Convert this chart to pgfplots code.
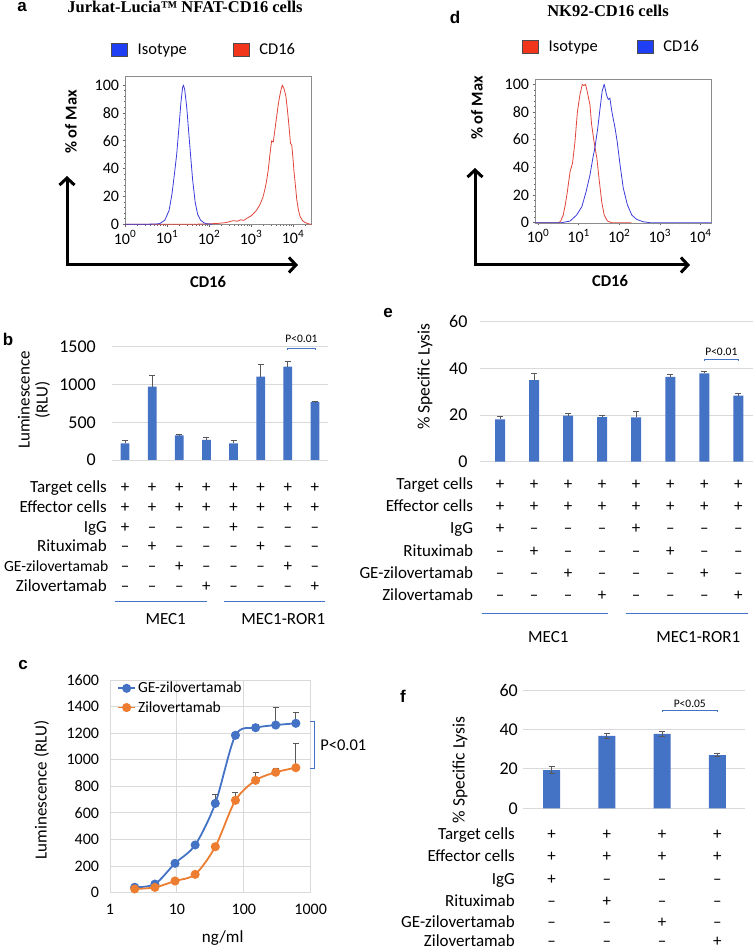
\documentclass[border=0pt]{standalone}
\usepackage{fontspec}
\setmainfont{Carlito}
\newfontfamily\timesfont{Liberation Serif}
\newfontfamily\arialfont{Liberation Sans}
\usepackage{pgfplots}
\usepackage{pgfplotstable}
\pgfplotsset{compat=1.18}
\usetikzlibrary{arrows.meta}

\definecolor{xlblue}{HTML}{4472C4}
\definecolor{xlorange}{HTML}{ED7D31}
\definecolor{histblue}{HTML}{3B3BDB}
\definecolor{histred}{HTML}{E0443A}
\definecolor{keyblue}{HTML}{1F3FF5}
\definecolor{keyred}{HTML}{F2361C}
\definecolor{errgray}{HTML}{595959}
\definecolor{gridgray}{HTML}{D9D9D9}

\newcommand\fs[1]{\fontsize{#1bp}{#1bp}\selectfont}

% luciferase reporter, 8 conditions: position, mean, error
\pgfplotstableread{
x y e
1 220 36
2 970 146
3 326 6
4 265 35
5 220 40
6 1103 163
7 1235 66
8 768 5
}\lumbars

% NK92 cytotoxicity, 8 conditions
\pgfplotstableread{
x y e
1 18.1 1.2
2 35.0 2.9
3 19.7 0.9
4 19.1 0.8
5 19.0 2.7
6 36.4 0.9
7 37.9 0.7
8 28.3 1.1
}\lysisbars

% cytotoxicity, 4 conditions
\pgfplotstableread{
x y e
1 19.4 1.7
2 36.7 1.2
3 37.7 1.2
4 27.0 0.8
}\lysisfour

% dose response (ng/ml, RLU, error)
\pgfplotstableread{
x y e
2.34 41 12
4.69 65 15
9.375 221 10
18.75 359 10
37.5 672 70
75 1184 12
150 1241 28
300 1261 134
600 1274 80
}\gezilo

\pgfplotstableread{
x y e
2.34 28 10
4.69 40 15
9.375 88 10
18.75 138 8
37.5 346 12
75 695 60
150 845 58
300 906 30
600 940 179
}\zilo

\pgfplotsset{
  histaxis/.style={scale only axis, enlargelimits=false,
    axis line style={black!45, line width=0.6bp},
    xtick={1,10,100,1000,10000},
    xticklabels={10\textsuperscript{0},10\textsuperscript{1},10\textsuperscript{2},10\textsuperscript{3},10\textsuperscript{4}},
    minor xtick={2,3,...,9,20,30,...,90,200,300,...,900,2000,3000,...,9000,20000},
    ytick={0,20,...,100}, minor y tick num=4,
    tick align=outside, tick pos=left,
    major tick length=2.5bp, minor tick length=1.5bp,
    tick style={black!60, line width=0.5bp},
    tick label style={font=\fs{16}},
    /pgf/number format/assume math mode=true,
    legend columns=2,
    legend style={draw=none, fill=none, inner sep=0pt, font=\fs{16.5}, anchor=west,
      nodes={inner sep=0pt}},
    legend cell align=left,
  },
  boxkey/.style={legend image code/.code={%
    \draw[black!70, line width=0.5bp, fill=#1] (0bp,-6.5bp) rectangle (16bp,6.5bp);}},
  barpanel/.style={scale only axis, enlargelimits=false, ybar,
    axis line style={draw=none}, xtick=\empty,
    ymajorgrids, grid style={gridgray, line width=0.9bp},
    major tick length=0bp, yticklabel style={font=\fs{18}},
    /pgf/number format/assume math mode=true, /pgf/number format/1000 sep={},
    clip=false},
  barfill/.style={fill=xlblue, draw=none},
  errstyle/.style={error bars/y explicit,
    error bars/error bar style={errgray, line width=0.9bp},
    error bars/error mark options={rotate=90, mark size=3bp, errgray, line width=0.9bp}},
}

\tikzset{
  sign/.style={anchor=base, inner sep=0pt, font=\fs{17}},
  rowlab/.style={anchor=base east, inner sep=0pt, font=\fs{17}},
  letter/.style={anchor=base, inner sep=0pt, font=\arialfont\bfseries\fs{17}},
}

% +/- rows under the bar charts
\newcommand\signsB[9]{\foreach \s [count=\k] in {#2,#3,#4,#5,#6,#7,#8,#9}{\node[sign] at ({125.0+(\k-1)*27.136},#1) {\s};}}
\newcommand\signsE[9]{\foreach \s [count=\k] in {#2,#3,#4,#5,#6,#7,#8,#9}{\node[sign] at ({500.0+(\k-1)*34.048},#1) {\s};}}
\newcommand\signsF[5]{\foreach \s [count=\k] in {#2,#3,#4,#5}{\node[sign] at ({551.7+(\k-1)*55.232},#1) {\s};}}

\begin{document}
\begin{tikzpicture}[x=1bp,y=1bp]
\useasboundingbox (0,0) rectangle (755,949);

% ================= a: Jurkat reporter cells
\node[letter] at (22,937) {a};
\node[anchor=base, inner sep=0pt, font=\timesfont\bfseries\fs{16.5}] at (185,936.5) {Jurkat-Lucia™ NFAT-CD16 cells};
\begin{axis}[xmode=log, histaxis, at={(125bp,724.5bp)}, anchor=south west,
  width=186.7bp, height=148.5bp,
  xmin=1, xmax=27860, ymin=-0.15, ymax=106.5,
  legend style={at={(axis description cs:-0.075,1.175)},
    /tikz/every odd column/.append style={column sep=10bp},
    /tikz/every even column/.append style={column sep=46bp}}]
\addlegendimage{boxkey=keyblue}
\addlegendentry{Isotype}
\addlegendimage{boxkey=keyred}
\addlegendentry{CD16}
\addplot[histred, line width=0.8bp, line join=round, forget plot] coordinates {
(1,0) (40,0) (79.4,0.2) (158.5,0.6) (251.2,1.2) (380.2,2.6) (470,2.2) (562.3,3.2)
(680,2.8) (794.3,4.3) (1000,6) (1122,7.4) (1349,10) (1622,14) (1905,19) (2138,25)
(2344,31) (2570,39) (2818,50) (3090,60) (3388,59) (3715,68) (3981,75) (4365,84)
(4677,90) (5129,96) (5559,100) (6166,97) (6761,92) (7244,84) (7762,75) (8318,65)
(8710,58) (9333,57) (10000,47) (10471,39) (11482,27) (12303,17.5) (13490,10)
(14791,5.5) (16982,2.5) (19498,1.2) (23988,0.2) (27860,0)};
\addplot[histblue, line width=0.8bp, line join=round, forget plot] coordinates {
(1,0) (3,0) (5.5,0.2) (6.76,0.5) (8.91,3) (11.22,10) (13.18,22) (15.14,37)
(16.98,50) (19.05,68) (21.38,87) (23.44,98) (24.55,100) (26.30,97) (29.51,84)
(33.11,65) (36.31,50) (40.74,32) (46.77,16) (53.70,7) (63.10,3) (75.86,1)
(89.13,0.3) (120,0)};
\end{axis}
\node[rotate=90, font=\bfseries\fs{16.5}] at (71,827) {\% of Max};
\node[font=\bfseries\fs{16.5}] at (208,667) {CD16};
\draw[line width=3bp, line join=miter,
  {Straight Barb[length=7bp,width=15bp]}-{Straight Barb[length=7bp,width=15bp]}]
  (67,773) -- (67,684) -- (298,684);

% ================= d: NK92 cells
\node[letter] at (455,925.7) {d};
\node[anchor=base, inner sep=0pt, font=\timesfont\bfseries\fs{16.5}] at (608,932.3) {NK92-CD16 cells};
\begin{axis}[xmode=log, histaxis, at={(535bp,726bp)}, anchor=south west,
  width=176bp, height=144bp,
  xmin=0.843, xmax=18240, ymin=-0.2, ymax=103.8,
  legend style={at={(axis description cs:-0.074,1.222)},
    /tikz/every odd column/.append style={column sep=10bp},
    /tikz/every even column/.append style={column sep=39bp}}]
\addlegendimage{boxkey=keyred}
\addlegendentry{Isotype}
\addlegendimage{boxkey=keyblue}
\addlegendentry{CD16}
\addplot[histred, line width=0.8bp, line join=round, forget plot] coordinates {
(0.843,0) (3.16,0) (3.6,1) (4.17,5.5) (4.7,13) (5.25,22) (6.17,37) (7.08,43)
(8.13,58.5) (9.33,80) (10.72,92) (12.30,100) (13.49,99) (14.79,100) (16.22,95)
(19.05,85) (20.89,71) (23.99,58.5) (28.18,46.5) (32.36,30) (37.15,15) (42.66,5.5)
(51.29,1.2) (66.07,0) (200,0)};
\addplot[histblue, line width=0.8bp, line join=round, forget plot] coordinates {
(0.843,0) (3.80,0) (6.17,1.2) (8.91,5.5) (12.02,11.6) (15.14,22) (19.05,34.5)
(22.39,46.5) (25.12,54) (29.51,68) (33.88,83) (38.02,95) (42.66,100) (48.98,92)
(53.70,89) (58.88,90) (66.07,80) (79.43,68) (89.13,58.5) (104.7,42) (125.9,25)
(158.5,13) (204.2,5.5) (269.2,2.4) (389.0,0.7) (575.4,0) (18240,0)};
\end{axis}
\node[rotate=90, font=\bfseries\fs{16.5}] at (477,841) {\% of Max};
\node[font=\bfseries\fs{16.5}] at (610,668) {CD16};
\draw[line width=3bp, line join=miter,
  {Straight Barb[length=7bp,width=15bp]}-{Straight Barb[length=7bp,width=15bp]}]
  (475,781) -- (475,684) -- (690,684);

% ================= b: reporter luminescence
\node[letter] at (8,603) {b};
\begin{axis}[barpanel, at={(112bp,489bp)}, anchor=south west,
  width=216bp, height=113.3bp, xmin=0.52, xmax=8.48, ymin=0, ymax=1500,
  ytick={0,500,1000,1500}, bar width=8.7bp,
  yticklabel style={xshift=-12.7bp}]
\addplot[barfill, errstyle, error bars/y dir=plus] table[x=x, y=y, y error=e] {\lumbars};
\draw[xlblue, line width=0.8bp] (axis cs:7,1450) -- (axis cs:7,1479) -- (axis cs:8,1479) -- (axis cs:8,1450);
\node[anchor=base, inner sep=0pt, font=\fs{11.5}] at (axis cs:7.5,1549) {P<0.01};
\end{axis}
\node[rotate=90, align=center, font={\fontsize{17bp}{18bp}\selectfont}] at (34,549) {Luminescence\\(RLU)};
\node[rowlab] at (107,456.2) {Target cells};      \signsB{456.2}{+}{+}{+}{+}{+}{+}{+}{+}
\node[rowlab] at (107,436.5) {Effector cells};    \signsB{436.5}{+}{+}{+}{+}{+}{+}{+}{+}
\node[rowlab] at (107,416.8) {IgG};               \signsB{416.8}{+}{–}{–}{–}{+}{–}{–}{–}
\node[rowlab] at (107,397.1) {Rituximab};         \signsB{397.1}{–}{+}{–}{–}{–}{+}{–}{–}
\node[rowlab, font=\fs{15.6}] at (108.5,377.4) {GE-zilovertamab};   \signsB{377.4}{–}{–}{+}{–}{–}{–}{+}{–}
\node[rowlab] at (107,357.7) {Zilovertamab};      \signsB{357.7}{–}{–}{–}{+}{–}{–}{–}{+}
\draw[xlblue, line width=1.1bp] (115,347.3) -- (207,347.3);
\draw[xlblue, line width=1.1bp] (224,347.3) -- (325,347.3);
\node[anchor=base, inner sep=0pt, font=\fs{17}] at (165.7,324.2) {MEC1};
\node[anchor=base, inner sep=0pt, font=\fs{17}] at (283.3,324.2) {MEC1-ROR1};

% ================= e: specific lysis, 8 conditions
\node[letter] at (388,631) {e};
\begin{axis}[barpanel, at={(480bp,487.3bp)}, anchor=south west,
  width=273bp, height=140bp, xmin=0.412, xmax=8.43, ymin=0, ymax=60,
  ytick={0,20,40,60}, bar width=10bp,
  yticklabel style={xshift=-9bp}]
\addplot[barfill, errstyle, error bars/y dir=plus] table[x=x, y=y, y error=e] {\lysisbars};
\draw[xlblue, line width=0.8bp] (axis cs:7,43.2) -- (axis cs:7,44) -- (axis cs:8,44) -- (axis cs:8,43.2);
\node[anchor=base, inner sep=0pt, font=\fs{11.5}] at (axis cs:7.5,45.4) {P<0.01};
\end{axis}
\node[rotate=90, font=\fs{17.5}] at (425,572.3) {\% Specific Lysis};
\node[rowlab] at (473.3,459.4) {Target cells};      \signsE{459.4}{+}{+}{+}{+}{+}{+}{+}{+}
\node[rowlab] at (473.3,437.2) {Effector cells};    \signsE{437.2}{+}{+}{+}{+}{+}{+}{+}{+}
\node[rowlab] at (473.3,415.0) {IgG};               \signsE{415.0}{+}{–}{–}{–}{+}{–}{–}{–}
\node[rowlab] at (473.3,392.8) {Rituximab};         \signsE{392.8}{–}{+}{–}{–}{–}{+}{–}{–}
\node[rowlab] at (473.3,370.6) {GE-zilovertamab};   \signsE{370.6}{–}{–}{+}{–}{–}{–}{+}{–}
\node[rowlab] at (473.3,348.4) {Zilovertamab};      \signsE{348.4}{–}{–}{–}{+}{–}{–}{–}{+}
\draw[xlblue, line width=1.1bp] (481.7,335.7) -- (607.7,335.7);
\draw[xlblue, line width=1.1bp] (626,335.7) -- (748.3,335.7);
\node[anchor=base, inner sep=0pt, font=\fs{17}] at (548.3,306.7) {MEC1};
\node[anchor=base, inner sep=0pt, font=\fs{17}] at (698.3,306.7) {MEC1-ROR1};

% ================= c: dose response
\node[letter] at (23,279) {c};
\begin{axis}[xmode=log, scale only axis, at={(110bp,56.3bp)}, anchor=south west,
  width=200.7bp, height=212.7bp, enlargelimits=false,
  xmin=1, xmax=1000, ymin=0, ymax=1600,
  xtick={1,10,100,1000}, xticklabels={1,10,100,1000}, ytick={0,200,...,1600},
  xminorticks=false,
  grid=major, grid style={gridgray, line width=0.9bp},
  axis line style={gridgray, line width=0.9bp},
  major tick length=0bp,
  tick label style={font=\fs{16}},
  yticklabel style={xshift=-7.5bp}, xticklabel style={yshift=-8bp},
  /pgf/number format/assume math mode=true, /pgf/number format/1000 sep={},
  legend style={at={(axis description cs:0.035,1.0)}, anchor=north west,
    draw=none, fill=none, font=\fs{15.5}, row sep=3bp, inner sep=0pt},
  legend cell align=left,
  clip=false]
\addplot[xlblue, line width=1.8bp, smooth, mark=*, mark size=3.6bp,
  mark options={solid, fill=xlblue},
  errstyle, error bars/y dir=plus] table[x=x, y=y, y error=e] {\gezilo};
\addlegendentry{GE-zilovertamab}
\addplot[xlorange, line width=1.8bp, smooth, mark=*, mark size=3.6bp,
  mark options={solid, fill=xlorange},
  errstyle, error bars/y dir=plus] table[x=x, y=y, y error=e] {\zilo};
\addlegendentry{Zilovertamab}
\end{axis}
\node[rotate=90, font=\fs{17}] at (41.7,159) {Luminescence (RLU)};
\node[font=\fs{17}] at (222.7,10.7) {ng/ml};
\draw[xlblue, line width=0.9bp] (310,227.3) -- (314.3,227.3) -- (314.3,180.7) -- (310,180.7);
\node[font=\fs{16.5}] at (343.3,204) {P<0.01};

% ================= f: specific lysis, 4 conditions
\node[letter] at (403,246) {f};
\begin{axis}[barpanel, at={(523.3bp,140.7bp)}, anchor=south west,
  width=221.7bp, height=118.3bp, xmin=0.486, xmax=4.5, ymin=0, ymax=60,
  ytick={0,20,40,60}, bar width=17bp,
  yticklabel style={xshift=-2bp}]
\addplot[barfill, errstyle, error bars/y dir=both] table[x=x, y=y, y error=e] {\lysisfour};
\draw[xlblue, line width=0.8bp] (axis cs:3,49) -- (axis cs:3,49.8) -- (axis cs:4,49.8) -- (axis cs:4,49);
\node[anchor=base, inner sep=0pt, font=\fs{11.5}] at (axis cs:3.5,51.2) {P<0.05};
\end{axis}
\node[rotate=90, font=\fs{17.5}] at (460,179) {\% Specific Lysis};
\node[rowlab] at (515,109.7) {Target cells};      \signsF{109.7}{+}{+}{+}{+}
\node[rowlab] at (515,87.3) {Effector cells};     \signsF{87.3}{+}{+}{+}{+}
\node[rowlab] at (515,64.5) {IgG};                \signsF{64.5}{+}{–}{–}{–}
\node[rowlab] at (515,42.7) {Rituximab};          \signsF{42.7}{–}{+}{–}{–}
\node[rowlab] at (515,21.5) {GE-zilovertamab};    \signsF{21.5}{–}{–}{+}{–}
\node[rowlab] at (515,2.5) {Zilovertamab};        \signsF{2.5}{–}{–}{–}{+}

\end{tikzpicture}
\end{document}
